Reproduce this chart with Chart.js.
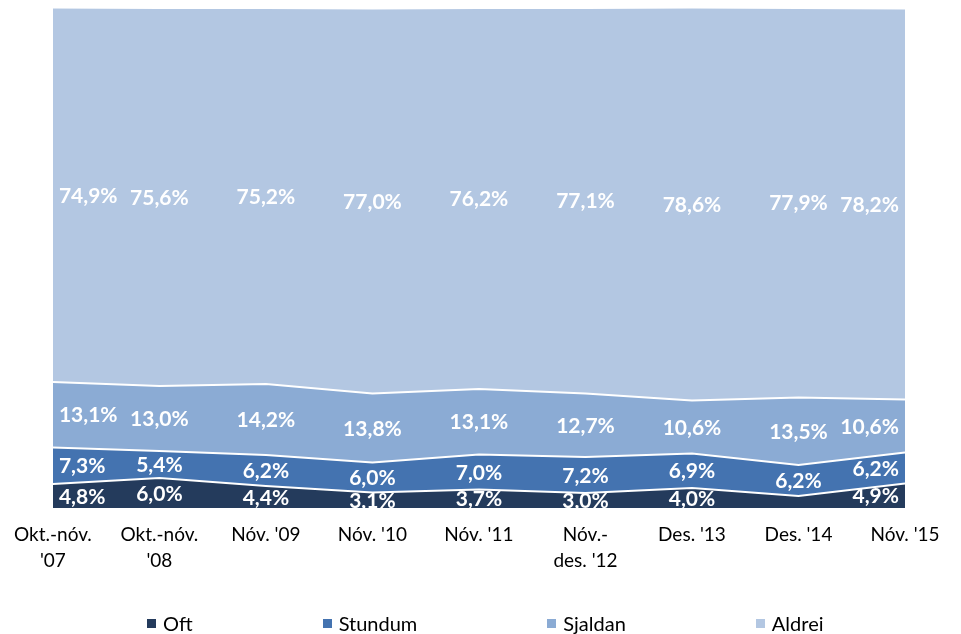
<!DOCTYPE html>
<html>
<head>
<meta charset="utf-8">
<script src="https://cdn.jsdelivr.net/npm/chart.js@4"></script>
<style>
  html, body { margin: 0; padding: 0; background: #fff; }
  #wrap { position: relative; width: 961px; height: 634px; }
  #legend { position: absolute; left: 147px; top: 611px; height: 24px; display: flex; align-items: center; font: 20px/24px Lato; color: #000; }
  #legend .item { display: flex; align-items: center; margin-right: 130px; }
  #legend .box { width: 9px; height: 9px; margin-right: 7px; }
</style>
</head>
<body>
<div id="wrap">
  <canvas id="chart" width="961" height="634"></canvas>
  <div id="legend"></div>
</div>
<script>
const categories = [
  ["Okt.-nóv.", "'07"], ["Okt.-nóv.", "'08"], "Nóv. '09", "Nóv. '10", "Nóv. '11",
  ["Nóv.-", "des. '12"], "Des. '13", "Des. '14", "Nóv. '15"
];
const oft     = [4.8, 6.0, 4.4, 3.1, 3.7, 3.0, 4.0, 2.4, 4.9];
const stundum = [7.3, 5.4, 6.2, 6.0, 7.0, 7.2, 6.9, 6.2, 6.2];
const sjaldan = [13.1, 13.0, 14.2, 13.8, 13.1, 12.7, 10.6, 13.5, 10.6];
const aldrei  = [74.9, 75.6, 75.2, 77.0, 76.2, 77.1, 78.6, 77.9, 78.2];

// the Oft label for Des. '14 is not shown in the original
const hiddenLabels = [[0, 7]];

/* ================= VALUE LABELS ================= */
const valueLabels = {
  id: "valueLabels",
  afterDatasetsDraw(chart) {
    const { ctx, chartArea } = chart;
    const zeroY = chart.scales.y.getPixelForValue(0);
    ctx.save();
    ctx.beginPath();
    ctx.rect(chartArea.left, chartArea.top, chartArea.width, chartArea.height);
    ctx.clip();
    ctx.font = "bold 21px Lato";
    ctx.fillStyle = "#fff";
    ctx.textAlign = "center";
    ctx.textBaseline = "middle";
    chart.data.datasets.forEach((ds, d) => {
      const meta = chart.getDatasetMeta(d);
      meta.data.forEach((pt, i) => {
        if (hiddenLabels.some(h => h[0] === d && h[1] === i)) return;
        const below = d === 0 ? zeroY : chart.getDatasetMeta(d - 1).data[i].y;
        const top = Math.max(pt.y, chartArea.top);
        const y = (top + below) / 2 + 1;
        const text = ds.data[i].toFixed(1).replace(".", ",") + "%";
        const w = ctx.measureText(text).width;
        const x = Math.min(Math.max(pt.x, chartArea.left + 6 + w / 2), chartArea.right - 6 - w / 2);
        ctx.fillText(text, x, y);
      });
    });
    ctx.restore();
  }
};

/* ================= HTML LEGEND ================= */
const htmlLegend = {
  id: "htmlLegend",
  afterUpdate(chart) {
    const el = document.getElementById("legend");
    el.innerHTML = "";
    chart.options.plugins.legend.labels.generateLabels(chart).forEach(item => {
      const li = document.createElement("div");
      li.className = "item";
      const box = document.createElement("span");
      box.className = "box";
      box.style.background = item.fillStyle;
      const txt = document.createElement("span");
      txt.textContent = item.text;
      li.appendChild(box);
      li.appendChild(txt);
      el.appendChild(li);
    });
  }
};

function series(label, data, color, fill) {
  return {
    label, data, fill,
    backgroundColor: color,
    borderColor: "#fff",
    borderWidth: 2,
    pointRadius: 0,
    tension: 0
  };
}

new Chart(document.getElementById("chart"), {
  type: "line",
  data: {
    labels: categories,
    datasets: [
      series("Oft", oft, "#243b5c", "origin"),
      series("Stundum", stundum, "#4473b0", "-1"),
      series("Sjaldan", sjaldan, "#8babd4", "-1"),
      series("Aldrei", aldrei, "#b3c7e2", "-1")
    ]
  },
  options: {
    responsive: false,
    devicePixelRatio: 1,
    animation: false,
    layout: { padding: { left: 52, right: 56, top: 8, bottom: 46 } },
    scales: {
      x: {
        offset: false,
        grid: { display: false, drawTicks: false },
        border: { display: false },
        ticks: {
          autoSkip: false, maxRotation: 0, padding: 14,
          color: "#000",
          font: { family: "Lato", size: 19, lineHeight: 1.37 }
        }
      },
      y: {
        display: false,
        stacked: true,
        min: 0, max: 100
      }
    },
    plugins: {
      legend: { display: false },
      tooltip: { enabled: false }
    }
  },
  plugins: [valueLabels, htmlLegend]
});
</script>
</body>
</html>
